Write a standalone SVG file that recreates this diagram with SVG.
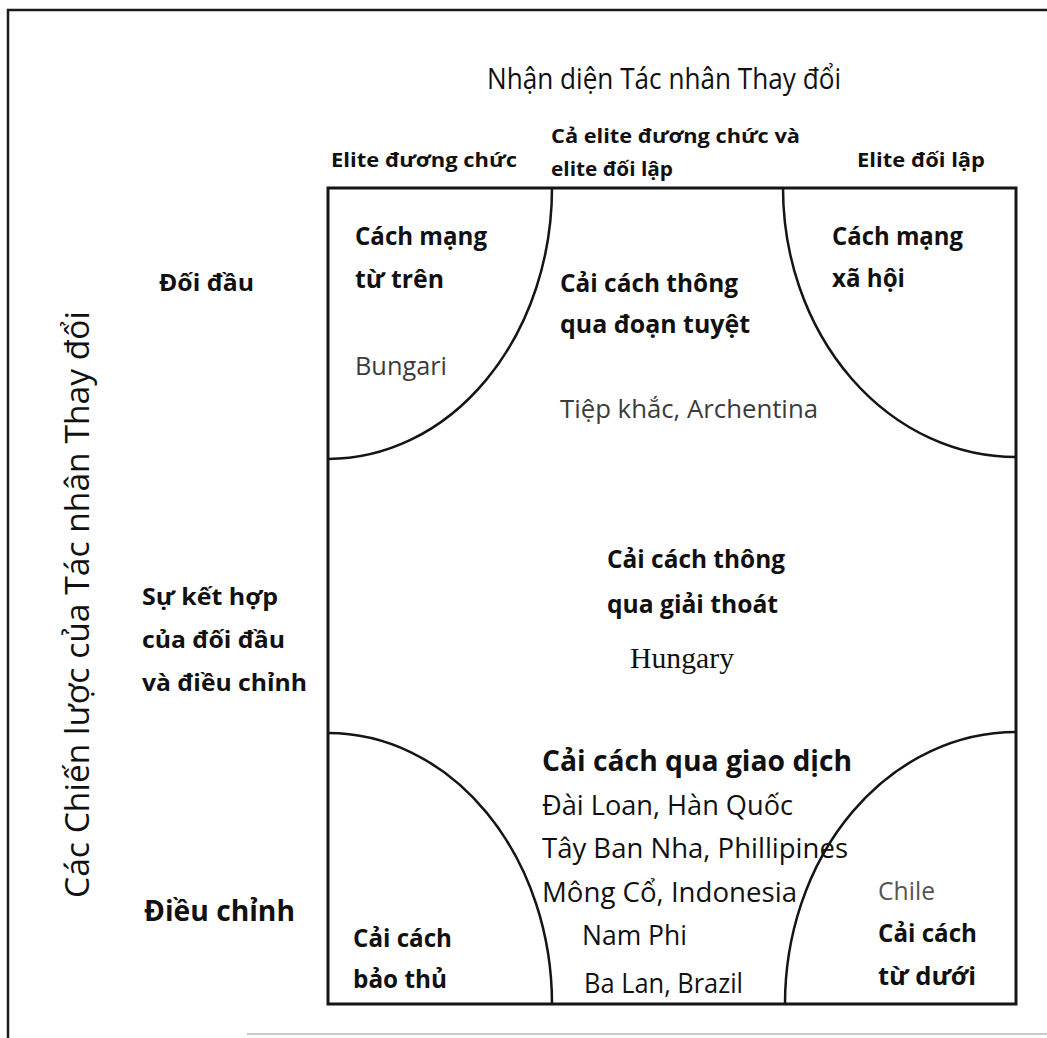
<svg xmlns="http://www.w3.org/2000/svg" width="1047" height="1038" viewBox="0 0 1047 1038">
<style>
text{font-family:"Open Sans",Lato,"Liberation Sans",sans-serif;fill:#111}
.b{font-weight:bold}
.g{fill:#3c3c3c}
.lg{fill:#555}
.serif{font-family:"Liberation Serif","DejaVu Serif",serif}
.frame{fill:none;stroke:#1a1a1a;stroke-width:2.5}
.box{fill:none;stroke:#151515;stroke-width:3}
.arc{fill:none;stroke:#151515;stroke-width:2.5}
</style>
<rect width="1047" height="1038" fill="#fff"/>
<g id="frame">
<path class="frame" d="M8 1038 V10 H1047"/>
<line x1="247" y1="1034" x2="1047" y2="1034" stroke="#c8c8c8" stroke-width="2"/>
</g>
<g id="axis-top">
<text x="487" y="89" font-size="29" textLength="354" lengthAdjust="spacingAndGlyphs">Nhận diện Tác nhân Thay đổi</text>
</g>
<g id="col-incumbent"><text class="b" x="331" y="167" font-size="20" textLength="186" lengthAdjust="spacingAndGlyphs">Elite đương chức</text></g>
<g id="col-both">
<text class="b" x="551" y="143" font-size="20" textLength="249" lengthAdjust="spacingAndGlyphs">Cả elite đương chức và</text>
<text class="b" x="551" y="176" font-size="20" textLength="122" lengthAdjust="spacingAndGlyphs">elite đối lập</text>
</g>
<g id="col-opposition"><text class="b" x="857" y="167" font-size="20" textLength="128" lengthAdjust="spacingAndGlyphs">Elite đối lập</text></g>
<g id="axis-left">
<text transform="translate(89 898) rotate(-90)" x="0" y="0" font-size="32" textLength="587" lengthAdjust="spacingAndGlyphs">Các Chiến lược của Tác nhân Thay đổi</text>
</g>
<g id="row-confrontation"><text class="b" x="159" y="291" font-size="24" textLength="95" lengthAdjust="spacingAndGlyphs">Đối đầu</text></g>
<g id="row-combination">
<text class="b" x="142" y="605" font-size="23" textLength="136" lengthAdjust="spacingAndGlyphs">Sự kết hợp</text>
<text class="b" x="142" y="648" font-size="23" textLength="143" lengthAdjust="spacingAndGlyphs">của đối đầu</text>
<text class="b" x="142" y="691" font-size="23" textLength="165" lengthAdjust="spacingAndGlyphs">và điều chỉnh</text>
</g>
<g id="row-accommodation"><text class="b" x="144" y="921" font-size="29" textLength="151" lengthAdjust="spacingAndGlyphs">Điều chỉnh</text></g>
<g id="matrix">
<rect class="box" x="328" y="188" width="688" height="816"/>
</g>
<g id="connectors">
<path class="arc" d="M552 188 A224 271 0 0 1 328 459"/>
<path class="arc" d="M783 188 A233 269 0 0 0 1016 457"/>
<path class="arc" d="M328 733 A224 271 0 0 1 552 1004"/>
<path class="arc" d="M785 1004 A231 272 0 0 1 1016 732"/>
</g>
<g id="cell-revolution-above">
<text class="b" x="355" y="245" font-size="25" textLength="132" lengthAdjust="spacingAndGlyphs">Cách mạng</text>
<text class="b" x="355" y="288" font-size="25" textLength="89" lengthAdjust="spacingAndGlyphs">từ trên</text>
<text class="g" x="355" y="375" font-size="26" textLength="92" lengthAdjust="spacingAndGlyphs">Bungari</text>
</g>
<g id="cell-rupture">
<text class="b" x="560" y="292" font-size="25" textLength="178" lengthAdjust="spacingAndGlyphs">Cải cách thông</text>
<text class="b" x="560" y="333" font-size="25" textLength="190" lengthAdjust="spacingAndGlyphs">qua đoạn tuyệt</text>
<text class="g" x="560" y="418" font-size="26" textLength="258" lengthAdjust="spacingAndGlyphs">Tiệp khắc, Archentina</text>
</g>
<g id="cell-social-revolution">
<text class="b" x="832" y="245" font-size="25" textLength="131" lengthAdjust="spacingAndGlyphs">Cách mạng</text>
<text class="b" x="832" y="287" font-size="25" textLength="73" lengthAdjust="spacingAndGlyphs">xã hội</text>
</g>
<g id="cell-extrication">
<text class="b" x="607" y="568" font-size="25" textLength="178" lengthAdjust="spacingAndGlyphs">Cải cách thông</text>
<text class="b" x="607" y="613" font-size="25" textLength="171" lengthAdjust="spacingAndGlyphs">qua giải thoát</text>
<text class="serif" x="630" y="668" font-size="30" textLength="104" lengthAdjust="spacingAndGlyphs">Hungary</text>
</g>
<g id="cell-transaction">
<text class="b" x="542" y="771" font-size="29" textLength="310" lengthAdjust="spacingAndGlyphs">Cải cách qua giao dịch</text>
<text x="542" y="815" font-size="27" textLength="251" lengthAdjust="spacingAndGlyphs">Đài Loan, Hàn Quốc</text>
<text x="542" y="858" font-size="27" textLength="306" lengthAdjust="spacingAndGlyphs">Tây Ban Nha, Phillipines</text>
<text x="542" y="902" font-size="27" textLength="255" lengthAdjust="spacingAndGlyphs">Mông Cổ, Indonesia</text>
<text x="582" y="945" font-size="27" textLength="105" lengthAdjust="spacingAndGlyphs">Nam Phi</text>
<text x="584" y="993" font-size="27" textLength="159" lengthAdjust="spacingAndGlyphs">Ba Lan, Brazil</text>
</g>
<g id="cell-conservative">
<text class="b" x="353" y="947" font-size="25" textLength="99" lengthAdjust="spacingAndGlyphs">Cải cách</text>
<text class="b" x="353" y="988" font-size="25" textLength="94" lengthAdjust="spacingAndGlyphs">bảo thủ</text>
</g>
<g id="cell-below">
<text class="lg" x="878" y="900" font-size="26" textLength="57" lengthAdjust="spacingAndGlyphs">Chile</text>
<text class="b" x="878" y="942" font-size="25" textLength="99" lengthAdjust="spacingAndGlyphs">Cải cách</text>
<text class="b" x="878" y="985" font-size="25" textLength="98" lengthAdjust="spacingAndGlyphs">từ dưới</text>
</g>
</svg>
